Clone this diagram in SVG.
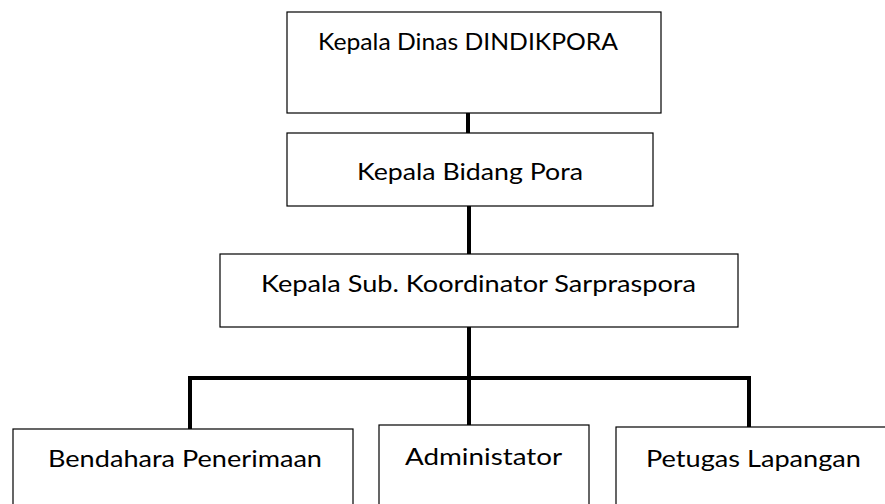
<svg xmlns="http://www.w3.org/2000/svg" width="885" height="504" viewBox="0 0 885 504">
<style>
.box{fill:#fff;stroke:#000;stroke-width:1.2}
.lbl{font-family:Lato,"Open Sans","Liberation Sans",sans-serif;font-size:23px;fill:#000;text-anchor:middle}
.con{stroke:#000;stroke-width:4;fill:none}
</style>
<rect width="885" height="504" fill="#fff"/>
<g id="connectors">
<line class="con" x1="468" y1="113" x2="468" y2="133"/>
<line class="con" x1="469" y1="206" x2="469" y2="254"/>
<line class="con" x1="469" y1="327" x2="469" y2="425"/>
<polyline class="con" points="190,429 190,378 749,378 749,427"/>
</g>
<g id="kepala-dinas">
<rect class="box" x="287" y="12" width="374" height="101"/>
<text class="lbl" x="468" y="50" textLength="300" lengthAdjust="spacingAndGlyphs">Kepala Dinas DINDIKPORA</text>
</g>
<g id="kepala-bidang">
<rect class="box" x="287" y="133" width="366" height="73"/>
<text class="lbl" x="470" y="180" textLength="226" lengthAdjust="spacingAndGlyphs">Kepala Bidang Pora</text>
</g>
<g id="kepala-sub">
<rect class="box" x="220" y="254" width="518" height="73"/>
<text class="lbl" x="478.5" y="292" textLength="435" lengthAdjust="spacingAndGlyphs">Kepala Sub. Koordinator Sarpraspora</text>
</g>
<g id="bendahara">
<rect class="box" x="13" y="429" width="340" height="100"/>
<text class="lbl" x="185" y="467" textLength="274" lengthAdjust="spacingAndGlyphs">Bendahara Penerimaan</text>
</g>
<g id="administator">
<rect class="box" x="379" y="425" width="210" height="100"/>
<text class="lbl" x="483.5" y="465" textLength="157" lengthAdjust="spacingAndGlyphs">Administator</text>
</g>
<g id="petugas">
<rect class="box" x="616" y="427" width="274" height="100"/>
<text class="lbl" x="753.5" y="467" textLength="215" lengthAdjust="spacingAndGlyphs">Petugas Lapangan</text>
</g>
</svg>
